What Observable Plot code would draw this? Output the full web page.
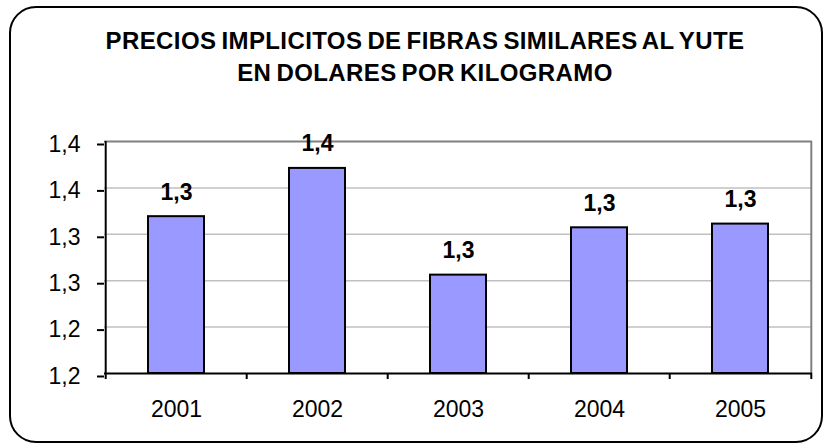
<!DOCTYPE html>
<html><head><meta charset="utf-8">
<script src="https://cdn.jsdelivr.net/npm/d3@7"></script>
<script src="https://cdn.jsdelivr.net/npm/@observablehq/plot@0.6"></script>
<style>
html,body{margin:0;padding:0;background:#fff;}
#wrap{position:relative;width:825px;height:447px;overflow:hidden;font-family:"Liberation Sans",Arial,sans-serif;color:#000;}
#box{position:absolute;left:9px;top:6px;width:814px;height:437px;box-sizing:border-box;border:2.5px solid #000;border-radius:27px;pointer-events:none;}
#title{width:825px;height:100px;box-sizing:border-box;padding-top:25px;padding-left:25px;text-align:center;font-weight:bold;font-size:24px;line-height:32px;letter-spacing:0.4px;word-spacing:-2px;white-space:nowrap;}
#chart svg{display:block;}
</style>
</head><body>
<div id="wrap">
  <div id="title"><div>PRECIOS IMPLICITOS DE FIBRAS SIMILARES AL YUTE</div><div>EN DOLARES POR KILOGRAMO</div></div>
  <div id="chart"></div>
  <div id="box"></div>
</div>
<script>
const years = ["2001", "2002", "2003", "2004", "2005"];
const prices = [1.319, 1.371, 1.256, 1.307, 1.311];
const yTicks = [1.15, 1.20, 1.25, 1.30, 1.35, 1.40];
const yTickLabels = ["1,2", "1,2", "1,3", "1,3", "1,4", "1,4"];
const baseValue = 1.15;

const fmt = v => d3.format(".1f")(v).replace(".", ",");
const data = years.map((year, i) => ({year, price: prices[i], label: fmt(prices[i])}));

const W = 825, H = 347, mL = 104, mR = 13, mT = 41, mB = 74;
const step = (W - mL - mR) / years.length;
const last = years[years.length - 1];

const chart = Plot.plot({
  width: W, height: H,
  marginLeft: mL, marginRight: mR, marginTop: mT, marginBottom: mB,
  style: {fontFamily: "'Liberation Sans', Arial, sans-serif", fontSize: "23px", color: "#000", background: "transparent", overflow: "visible"},
  x: {domain: years, paddingInner: 0.6, paddingOuter: 0.3, axis: null, label: null},
  y: {domain: [yTicks[0], yTicks[yTicks.length - 1]], axis: null, label: null},
  marks: [
    Plot.ruleY(yTicks.slice(1, -1), {stroke: "#c0c0c0", strokeWidth: 1.5}),
    Plot.ruleY([yTicks[yTicks.length - 1]], {stroke: "#808080", strokeWidth: 2}),
    Plot.ruleX([last], {dx: step / 2, stroke: "#808080", strokeWidth: 2}),
    Plot.barY(data, {x: "year", y1: baseValue, y2: "price", fill: "#9999ff", stroke: "#000", strokeWidth: 2}),
    Plot.ruleX([years[0]], {dx: -step / 2, stroke: "#000", strokeWidth: 2}),
    Plot.ruleY([baseValue], {stroke: "#000", strokeWidth: 2}),
    Plot.ruleX(years, {dx: -step / 2, y1: baseValue, y2: baseValue - 0.0065, stroke: "#000", strokeWidth: 2}),
    Plot.ruleX([last], {dx: step / 2, y1: baseValue, y2: baseValue - 0.0065, stroke: "#000", strokeWidth: 2}),
    Plot.axisY({ticks: yTicks, tickFormat: d => yTickLabels[yTicks.findIndex(t => Math.abs(t - d) < 1e-9)], tickSize: 7, tickPadding: 17, strokeWidth: 2, stroke: "#000", dy: 3, fontSize: 23, label: null}),
    Plot.axisX({tickSize: 0, tickPadding: 27, fontSize: 23, label: null}),
    Plot.text(data, {x: "year", y: "price", text: "label", dy: -17, lineAnchor: "bottom", fontWeight: "bold", fontSize: 23, fill: "#000"})
  ]
});
document.getElementById("chart").appendChild(chart);
</script>
</body></html>
